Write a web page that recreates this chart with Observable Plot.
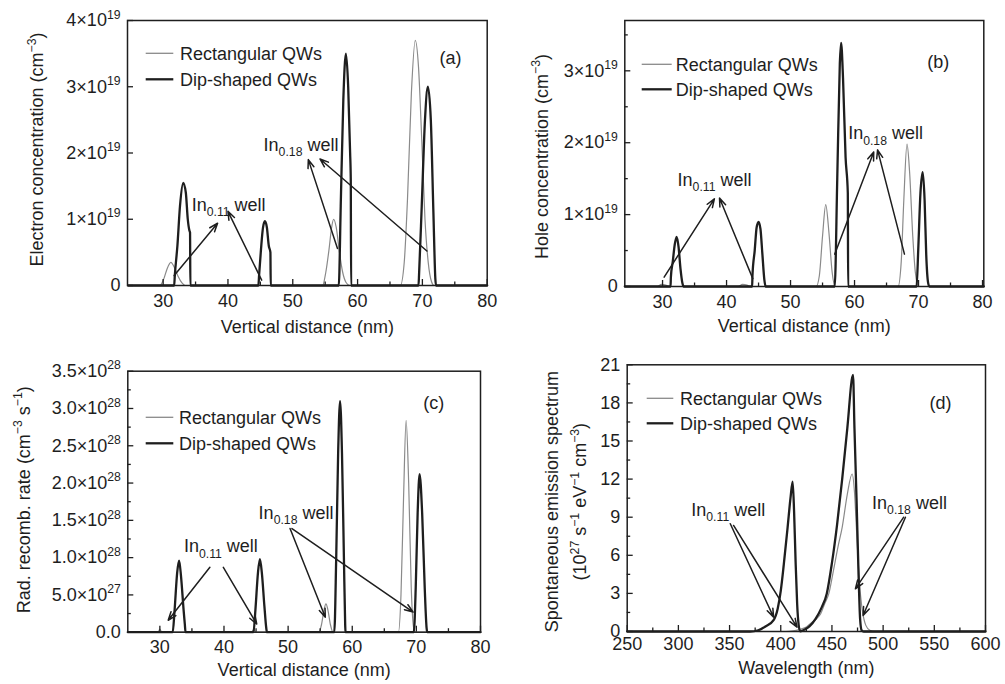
<!DOCTYPE html>
<html><head><meta charset="utf-8">
<script src="https://cdn.jsdelivr.net/npm/d3@7"></script>
<script src="https://cdn.jsdelivr.net/npm/@observablehq/plot@0.6"></script>
<style>
body{margin:0;background:#fff;font-family:"Liberation Sans",Arial,sans-serif;}
#wrap{position:relative;width:1005px;height:684px;overflow:hidden;background:#fff}
#wrap svg{position:absolute;overflow:visible}
</style></head><body><div id="wrap"></div>
<script>
// ---------- DATA ----------
// (a) Electron concentration, y in units of 1e19 cm^-3, x = vertical distance (nm)
const electronRect = [[24.6,0],[29.5,0],[30.1,0.1],[30.6,0.25],[31.2,0.35],[31.7,0.28],[32.3,0.14],[32.9,0.04],[33.4,0],
  [54.6,0],[55.1,0.2],[55.6,0.55],[56.0,0.88],[56.3,1.0],[56.7,0.88],[57.2,0.5],[57.7,0.2],[58.2,0.05],[58.8,0],
  [66.6,0],[67.2,0.35],[67.7,1.3],[68.3,2.9],[68.9,3.7],[69.4,3.3],[69.9,2.2],[70.4,1.0],[70.9,0.35],[71.4,0.06],[71.8,0],[80,0]];
const electronDip = [[24.6,0],[31.7,0],[31.8,0.15],[32.2,0.6],[32.6,1.2],[33.1,1.55],[33.5,1.4],[33.8,1.0],[34.05,0.83],[34.15,0.8],[34.2,0],
  [44.7,0],[44.8,0.15],[45.1,0.55],[45.4,0.87],[45.7,0.97],[46.0,0.88],[46.3,0.6],[46.55,0.5],[46.6,0],
  [57.1,0],[57.4,1.2],[57.8,2.8],[58.2,3.5],[58.55,3.0],[58.85,2.0],[58.95,1.6],[59.0,0],
  [69.4,0],[69.5,0.2],[69.9,1.2],[70.4,2.5],[70.85,3.0],[71.3,2.5],[71.7,1.1],[72.0,0.1],[72.1,0],[80,0]];
const electronArrows = [[31.7,0.15,38.4,0.94],[45.2,0.08,40.0,1.12],[56.9,0.56,52.4,1.90],[70.7,0.52,54.2,1.91]];
const electronNotes = [[34.4,1.13,"In_{0.11} well"],[45.5,2.03,"In_{0.18} well"]];

// (b) Hole concentration, y in units of 1e19 cm^-3
const holeRect = [[24.1,0],[29.2,0],[29.8,0.03],[30.5,0.02],[31,0],[41.8,0],[42.5,0.03],[43.2,0.02],[43.6,0],
  [54.0,0],[54.5,0.15],[55.0,0.7],[55.5,1.14],[56.0,0.75],[56.5,0.2],[57.0,0],
  [66.8,0],[67.3,0.35],[67.7,1.2],[68.2,1.98],[68.6,1.6],[69.1,0.7],[69.5,0.2],[70.0,0],[80.2,0]];
const holeDip = [[24.1,0],[31.25,0],[31.3,0.13],[31.6,0.35],[31.9,0.58],[32.2,0.69],[32.5,0.55],[32.8,0.25],[33.1,0.05],[33.3,0],
  [44.0,0],[44.05,0.15],[44.4,0.5],[44.7,0.82],[45.0,0.9],[45.3,0.8],[45.6,0.45],[45.9,0.1],[46.1,0],
  [56.9,0],[57.3,1.5],[57.7,3.1],[57.9,3.39],[58.2,2.9],[58.6,1.8],[58.95,1.3],[59.0,0],
  [69.7,0],[69.95,0.5],[70.3,1.3],[70.65,1.59],[70.95,1.2],[71.2,0.45],[71.5,0.05],[71.7,0],[80.2,0]];
const holeArrows = [[30.25,0.13,38.1,1.22],[44.1,0.11,38.9,1.23],[56.9,0.45,63.0,1.87],[67.8,0.45,63.6,1.9]];
const holeNotes = [[32.35,1.40,"In_{0.11} well"],[59.0,2.05,"In_{0.18} well"]];

// (c) Radiative recombination rate, y in units of 1e28 cm^-3 s^-1
const recombRect = [[25,0],[29.7,0],[30,0.04],[30.3,0],[44.3,0],[44.6,0.03],[45,0],
  [54.8,0],[55.2,0.1],[55.6,0.3],[55.9,0.38],[56.2,0.3],[56.6,0.1],[57,0],
  [67.2,0],[67.6,0.5],[68.0,1.8],[68.4,2.84],[68.8,2.0],[69.2,0.6],[69.6,0.05],[69.9,0],[80,0]];
const recombDip = [[25,0],[32,0],[32.3,0.3],[32.7,0.8],[33,0.96],[33.3,0.75],[33.7,0.3],[33.9,0.1],[34.0,0],
  [44.6,0],[44.9,0.3],[45.3,0.8],[45.6,0.98],[45.9,0.8],[46.3,0.35],[46.6,0.05],[46.7,0],
  [57.2,0],[57.5,1.0],[57.8,2.4],[58.1,3.1],[58.4,2.4],[58.7,1.0],[58.9,0.1],[58.95,0],
  [69.6,0],[69.9,0.6],[70.2,1.6],[70.5,2.12],[70.9,1.6],[71.3,0.6],[71.6,0.05],[71.7,0],[80,0]];
const recombArrows = [[37.8,0.87,31.3,0.16],[39.9,0.87,45.1,0.11],[50.3,1.39,55.8,0.2],[50.6,1.39,69.5,0.27]];
const recombNotes = [[33.75,1.07,"In_{0.11} well"],[45.4,1.52,"In_{0.18} well"]];

// (d) Spontaneous emission spectrum, y in units of 1e27 s^-1 eV^-1 cm^-3, x = wavelength (nm)
const spectrumRect = [[250,0],[405,0],[412,0.05],[418,0.15],[425,0.35],[430,0.7],[435,1.0],[439,1.4],[443,2.2],[447,3.0],
  [451,4.6],[456,6.7],[460,8.2],[465,10.8],[469.7,12.4],[472,11],[474,8],[476,5],[478,2.8],[480,1.5],[483,0.5],[487,0.1],[492,0],[600,0]];
const spectrumDip = [[250,0],[370,0],[378,0.1],[385,0.4],[393,0.9],[397,1.8],[400,3.2],[403,5.3],[406.7,8.2],[409.5,10.5],[411.6,11.8],
  [413,9.5],[414.5,5.5],[416,2.2],[417.5,0.5],[419,0.02],[422,0.1],[428,0.4],[434,1.0],[440,1.9],[445,3.0],[450,5.4],[455,8.4],
  [460,12.0],[465,16.0],[470.6,20.2],[472,16],[474,10.5],[476,4.5],[477.5,1.0],[479,0.1],[481,0],[600,0]];
const spectrumArrows = [[350.7,8.48,393,1.13],[353.9,8.35,415.9,0.34],[520.1,9.0,472.9,3.36],[521.8,9.0,480.4,1.26]];
const spectrumNotes = [[312.6,9.13,"In_{0.11} well"],[489.2,9.66,"In_{0.18} well"]];

// Axis ticks and labels
const distTicks = [30,40,50,60,70,80];
const distMinor = [35,45,55,65,75];
const waveTicks = [250,300,350,400,450,500,550,600];
const waveMinor = [275,325,375,425,475,525,575];
const yTicksA = [0,1,2,3,4];
const yLabelsA = ["0","1×10^{19}","2×10^{19}","3×10^{19}","4×10^{19}"];
const yTicksB = [0,1,2,3];
const yLabelsB = ["0","1×10^{19}","2×10^{19}","3×10^{19}"];
const yMinorB = [0.5,1.5,2.5,3.5];
const yTicksC = [0,0.5,1,1.5,2,2.5,3,3.5];
const yLabelsC = ["0.0","5.0×10^{27}","1.0×10^{28}","1.5×10^{28}","2.0×10^{28}","2.5×10^{28}","3.0×10^{28}","3.5×10^{28}"];
const yMinorC = [0.25,0.75,1.25,1.75,2.25,2.75,3.25];
const yTicksD = [0,3,6,9,12,15,18,21];
const yLabelsD = ["0","3","6","9","12","15","18","21"];
const yMinorD = [1.5,4.5,7.5,10.5,13.5,16.5,19.5];
const seriesNames = ["Rectangular QWs","Dip-shaped QWs"];

// ---------- RENDER ----------
const GRAY = "#8a8a8a", BLACK = "#1e1e1e";
const FONT = "'Liberation Sans', Arial, Helvetica, sans-serif";
const wrap = document.getElementById("wrap");

function richify(svg) {
  d3.select(svg).selectAll("text").each(function() {
    const el = this;
    const s = el.textContent;
    if (!/[\^_]\{/.test(s)) return;
    const fs = parseFloat(getComputedStyle(el).fontSize) || 17;
    const parts = [];
    const re = /([\^_])\{([^}]*)\}/g;
    let last = 0, m;
    while ((m = re.exec(s))) {
      if (m.index > last) parts.push({t: s.slice(last, m.index), mode: 0});
      parts.push({t: m[2], mode: m[1] === "^" ? 1 : -1});
      last = re.lastIndex;
    }
    if (last < s.length) parts.push({t: s.slice(last), mode: 0});
    while (el.firstChild) el.removeChild(el.firstChild);
    let cur = 0;
    for (const p of parts) {
      const target = p.mode === 1 ? fs * 0.42 : p.mode === -1 ? -fs * 0.3 : 0;
      const ts = document.createElementNS("http://www.w3.org/2000/svg", "tspan");
      ts.textContent = p.t;
      if (cur !== target) ts.setAttribute("dy", (cur - target) + "px");
      if (p.mode) ts.setAttribute("font-size", (fs * 0.68) + "px");
      el.appendChild(ts);
      cur = target;
    }
  });
}

function panel(c) {
  const pw = c.W - c.ml - c.mr, ph = c.H - c.mt - c.mb;
  const lab = new Map(c.yTicks.map((v, i) => [v, c.yLabels[i]]));
  const marks = [
    Plot.line(c.rect, {x: d => d[0], y: d => d[1], stroke: GRAY, strokeWidth: 1.2, curve: "monotone-x"}),
    Plot.line(c.dip, {x: d => d[0], y: d => d[1], stroke: BLACK, strokeWidth: 2.3, curve: "monotone-x"}),
    Plot.arrow(c.arrows, {x1: d => d[0], y1: d => d[1], x2: d => d[2], y2: d => d[3], stroke: BLACK, strokeWidth: 1.5, headLength: 9, headAngle: 40}),
    Plot.text(c.notes, {x: d => d[0], y: d => d[1], text: d => d[2], textAnchor: "start", lineAnchor: "bottom", fontSize: 18, fill: BLACK}),
    Plot.frame({stroke: BLACK, strokeWidth: 1.5}),
    Plot.tickX(c.xTicks, {x: d => d, insetTop: ph - 6, stroke: BLACK, strokeWidth: 1.3}),
    Plot.tickX(c.xMinor, {x: d => d, insetTop: ph - 3.5, stroke: BLACK, strokeWidth: 1.3}),
    Plot.tickY(c.yTicks, {y: d => d, insetRight: pw - 6, stroke: BLACK, strokeWidth: 1.3}),
    Plot.tickY(c.yMinor, {y: d => d, insetRight: pw - 3.5, stroke: BLACK, strokeWidth: 1.3}),
    Plot.axisX({ticks: c.xTicks, tickSize: 0, tickPadding: c.xPad, tickFormat: d => String(d), label: null, fill: BLACK}),
    Plot.axisY({ticks: c.yTicks, tickSize: 0, tickPadding: 7, tickFormat: d => lab.get(d), label: null, fill: BLACK}),
    Plot.text([c.xTitle], {frameAnchor: "bottom", dy: c.xTitleDy, text: d => d, fontSize: 18, fill: BLACK, lineAnchor: "middle", textAnchor: "middle"}),
    ...c.yTitles.map(t => Plot.text([t.text], {frameAnchor: "left", dx: t.sx, dy: t.sy, rotate: -90, text: d => d, fontSize: 18, fill: BLACK, lineAnchor: "middle", textAnchor: "middle"})),
    Plot.text([c.tag], {frameAnchor: "top-left", dx: c.tagX, dy: c.tagY, text: d => d, fontSize: 18, fill: BLACK, lineAnchor: "middle", textAnchor: "middle"})
  ];
  const svg = Plot.plot({
    width: c.W, height: c.H,
    marginLeft: c.ml, marginRight: c.mr, marginTop: c.mt, marginBottom: c.mb,
    x: {domain: c.xDomain},
    y: {domain: c.yDomain},
    style: {fontFamily: FONT, fontSize: "18px", color: BLACK, background: "transparent", overflow: "visible"},
    marks
  });
  svg.style.left = c.left + "px";
  svg.style.top = c.top + "px";
  wrap.appendChild(svg);
  // legend (pixel layout inside the frame)
  const g = d3.select(svg).append("g").attr("font-family", FONT).attr("font-size", 18).attr("fill", BLACK).attr("text-anchor", "start");
  const styles = [{stroke: GRAY, w: 1.3}, {stroke: BLACK, w: 2.3}];
  seriesNames.forEach((name, i) => {
    const y = c.mt + c.legY[i];
    g.append("line").attr("x1", c.ml + c.legX0).attr("x2", c.ml + c.legX1).attr("y1", y).attr("y2", y)
      .attr("stroke", styles[i].stroke).attr("stroke-width", styles[i].w);
    g.append("text").attr("x", c.ml + c.legT).attr("y", y).attr("dy", "0.35em").attr("text-anchor", "start").text(name);
  });
  richify(svg);
}

panel({left: 0, top: 0, W: 500, H: 342, ml: 127, mr: 13.3, mt: 20, mb: 57,
  xDomain: [24.5, 80], yDomain: [0, 4], rect: electronRect, dip: electronDip, arrows: electronArrows, notes: electronNotes,
  xTicks: distTicks, xMinor: distMinor, yTicks: yTicksA, yLabels: yLabelsA, yMinor: [], xPad: 9,
  xTitle: "Vertical distance (nm)", xTitleDy: 42,
  yTitles: [{text: "Electron concentration (cm^{−3})", sx: -90, sy: -3.5}],
  tag: "(a)", tagX: 323, tagY: 38, legX0: 18.7, legX1: 46.3, legT: 53, legY: [33.3, 59.3]});

panel({left: 500, top: 0, W: 505, H: 342, ml: 124.3, mr: 21.7, mt: 20, mb: 56,
  xDomain: [24.1, 80.2], yDomain: [0, 3.7], rect: holeRect, dip: holeDip, arrows: holeArrows, notes: holeNotes,
  xTicks: distTicks, xMinor: distMinor, yTicks: yTicksB, yLabels: yLabelsB, yMinor: yMinorB, xPad: 9,
  xTitle: "Vertical distance (nm)", xTitleDy: 40,
  yTitles: [{text: "Hole concentration (cm^{−3})", sx: -82.6, sy: 3}],
  tag: "(b)", tagX: 313.4, tagY: 41.7, legX0: 17.4, legX1: 47.4, legT: 51.4, legY: [44.3, 69.3]});

panel({left: 0, top: 342, W: 500, H: 342, ml: 127.3, mr: 20, mt: 28.7, mb: 52.3,
  xDomain: [25, 80], yDomain: [0, 3.5], rect: recombRect, dip: recombDip, arrows: recombArrows, notes: recombNotes,
  xTicks: distTicks, xMinor: distMinor, yTicks: yTicksC, yLabels: yLabelsC, yMinor: yMinorC, xPad: 8,
  xTitle: "Vertical distance (nm)", xTitleDy: 38.5,
  yTitles: [{text: "Rad. recomb. rate (cm^{−3} s^{−1})", sx: -104, sy: -2}],
  tag: "(c)", tagX: 306, tagY: 32, legX0: 18.4, legX1: 46, legT: 51.7, legY: [46.6, 72.6]});

panel({left: 500, top: 342, W: 505, H: 342, ml: 126.7, mr: 20, mt: 22.3, mb: 53,
  xDomain: [250, 600], yDomain: [0, 21], rect: spectrumRect, dip: spectrumDip, arrows: spectrumArrows, notes: spectrumNotes,
  xTicks: waveTicks, xMinor: waveMinor, yTicks: yTicksD, yLabels: yLabelsD, yMinor: yMinorD, xPad: 6,
  xTitle: "Wavelength (nm)", xTitleDy: 37,
  yTitles: [{text: "Spontaneous emission spectrum", sx: -75, sy: 3.5}, {text: "(10^{27} s^{−1} eV^{−1} cm^{−3})", sx: -46.7, sy: 3.5}],
  tag: "(d)", tagX: 313.3, tagY: 38.4, legX0: 20, legX1: 46.6, legT: 53.3, legY: [34, 59]});
</script></body></html>
